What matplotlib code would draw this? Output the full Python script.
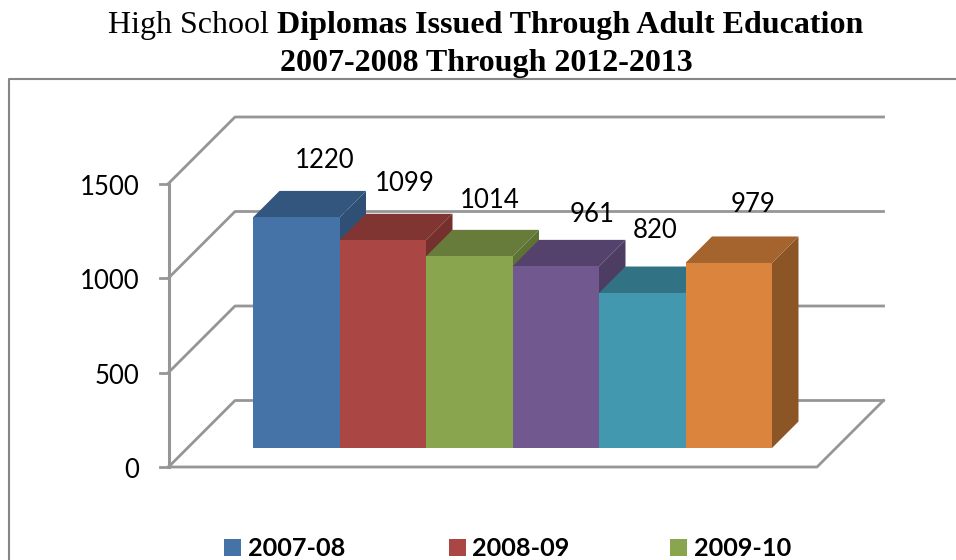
import matplotlib
matplotlib.use("Agg")
import matplotlib.pyplot as plt
from matplotlib.patches import Polygon, Rectangle

# Values
years = ["2007-08", "2008-09", "2009-10", "2010-11", "2011-12", "2012-13"]
diplomas = [1220, 1099, 1014, 961, 820, 979]
y_ticks = [0, 500, 1000, 1500]
legend_years = ["2007-08", "2008-09", "2009-10"]

front_colors = ["#4573a7", "#aa4643", "#89a54e", "#71588f", "#4198af", "#db843d"]
top_colors = ["#33567f", "#803532", "#677c3b", "#55426c", "#317284", "#a5642e"]
side_colors = ["#2f4f75", "#75302e", "#5f7236", "#4e3d63", "#2d697a", "#8c5526"]

# Pixel layout of the labels
label_px = [(325, 161), (405, 184), (490, 200), (592, 214), (655, 231), (753, 205)]
legend_swatch_px = [224, 449, 670]
legend_text_px = [248, 472, 694]

W, H = 956, 560
px_x = 86.5          # pixels per category
px_y = 283.5 / 1500  # pixels per diploma
left_px = 253
zero_px = 467

fig = plt.figure(figsize=(W / 100, H / 100), dpi=100)
ax = fig.add_axes([0, 0, 1, 1])
ax.set_xlim(-left_px / px_x, (W - left_px) / px_x)
ax.set_ylim(-(H - zero_px) / px_y, zero_px / px_y)
ax.axis("off")


# Figure fraction from image pixels
def fx(px):
    return px / W


def fy(py):
    return 1 - py / H


# Title, regular and bold parts set separately
fig.text(fx(108), fy(33), "High School", family="Liberation Serif", fontsize=23, va="baseline")
fig.text(fx(277), fy(33), "Diplomas Issued Through Adult Education", family="Liberation Serif",
         weight="bold", fontsize=23, va="baseline")
fig.text(fx(486), fy(71), "2007-2008 Through 2012-2013", family="Liberation Serif",
         weight="bold", fontsize=23, ha="center", va="baseline")

# Outer chart frame, cut off on the right and at the bottom
fig.add_artist(plt.Line2D([fx(9), fx(9), fx(956)], [fy(560), fy(79), fy(79)], color="#868686", lw=1.5))

# Depth offsets in data units
wall_dx, wall_dy = 66.5 / px_x, 66.5 / px_y
bar_dy0 = 19 / px_y
bar_dx, bar_dy = 26.5 / px_x, 26.5 / px_y
floor_x0 = (168.5 - left_px) / px_x
floor_x1 = (817 - left_px) / px_x
grey = "#969696"

# Gridlines on the walls
for t in y_ticks:
    ax.plot([floor_x0, floor_x0 + wall_dx, floor_x1 + wall_dx],
            [t, t + wall_dy, t + wall_dy], color=grey, lw=2, zorder=1)
    ax.plot([floor_x0 - 9 / px_x, floor_x0], [t, t], color=grey, lw=2, zorder=1)
    ax.text(floor_x0 - 29 / px_x, t - 3.5 / px_y, str(t), ha="right", va="center", fontsize=18.5,
            family="Lato", color="black")
ax.plot([floor_x0, floor_x0], [0, 1500], color=grey, lw=2.2, zorder=1)
ax.plot([floor_x0, floor_x1, floor_x1 + wall_dx], [0, 0, wall_dy], color=grey, lw=2, zorder=1)

# 3d bars, left to right so each one hides the side of the last
for i, v in enumerate(diplomas):
    b = bar_dy0
    ax.add_patch(Polygon([(i + 1, b), (i + 1 + bar_dx, b + bar_dy),
                          (i + 1 + bar_dx, v + b + bar_dy), (i + 1, v + b)],
                         fc=side_colors[i], ec="none", zorder=2 + i))
    ax.add_patch(Polygon([(i, v + b), (i + bar_dx, v + b + bar_dy),
                          (i + 1 + bar_dx, v + b + bar_dy), (i + 1, v + b)],
                         fc=top_colors[i], ec="none", zorder=2 + i))
    ax.bar(i, v, width=1, bottom=b, align="edge", color=front_colors[i], zorder=2.5 + i)

# Value labels
for v, (px, py) in zip(diplomas, label_px):
    fig.text(fx(px), fy(py), str(v), ha="center", va="center", fontsize=18.5,
             family="Lato", color="black", zorder=20)

# Legend, only the first row shows
for name, c, sx, tx in zip(legend_years, front_colors, legend_swatch_px, legend_text_px):
    fig.add_artist(Rectangle((fx(sx), fy(556)), 17 / W, 17 / H, transform=fig.transFigure, fc=c, ec="none"))
    fig.text(fx(tx), fy(549), name, ha="left", va="center", fontsize=18.2, weight="bold",
             family="Lato", color="black")

fig.savefig("out.png", dpi=100)
